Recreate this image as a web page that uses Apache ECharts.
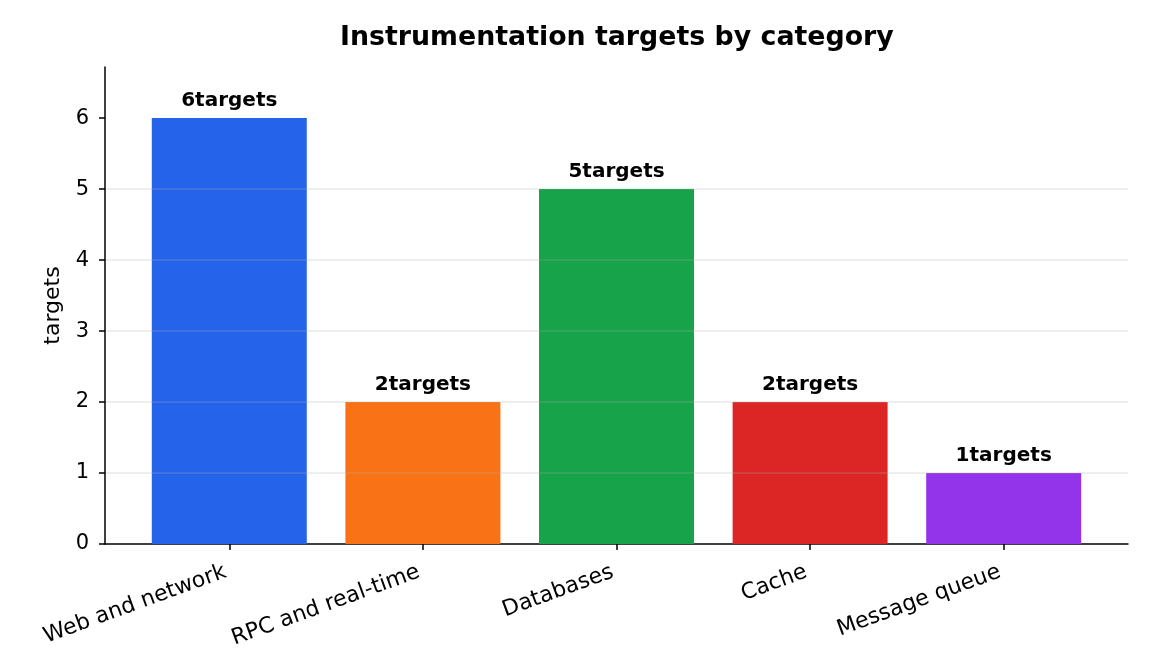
<!DOCTYPE html>
<html><head><meta charset="utf-8">
<script src="https://cdn.jsdelivr.net/npm/echarts@6/dist/echarts.min.js"></script>
<style>html,body{margin:0;padding:0;background:#fff}#c{width:1152px;height:672px}</style>
</head><body><div id="c"></div>
<script>
const categories = ["Web and network", "RPC and real-time", "Databases", "Cache", "Message queue"];
const targetCounts = [6, 2, 5, 2, 1];
const barColors = ["#2563eb", "#f97316", "#16a34a", "#dc2626", "#9333ea"];
const yTicks = [0, 1, 2, 3, 4, 5, 6];

const FONT = "DejaVu Sans";
const chart = echarts.init(document.getElementById('c'));
chart.setOption({
  animation: false,
  backgroundColor: '#ffffff',
  title: {
    text: 'Instrumentation targets by category',
    left: 335, top: 20,
    textStyle: { fontFamily: FONT, fontSize: 26.8, fontWeight: 'bold', color: '#000' }
  },
  grid: { left: 105, right: 24, top: 67, bottom: 128 },
  xAxis: {
    type: 'value', min: -0.642, max: 4.642,
    axisLine: { show: true, onZero: false, lineStyle: { color: '#000', width: 1.5 } },
    axisTick: { show: true, customValues: categories.map((_, i) => i), length: 6, lineStyle: { color: '#000', width: 1.5 } },
    axisLabel: {
      customValues: categories.map((_, i) => i),
      formatter: v => categories[Math.round(v)],
      rotate: 20, margin: 26, padding: [0, 4, 0, 0],
      fontFamily: FONT, fontSize: 22, color: '#000'
    },
    splitLine: { show: false }
  },
  yAxis: {
    type: 'value', min: 0, max: 6.72, interval: 1, z: 5,
    name: 'targets', nameLocation: 'middle', nameGap: 39, nameRotate: 90,
    nameTextStyle: { fontFamily: FONT, fontSize: 22, color: '#000' },
    axisLine: { show: true, onZero: false, lineStyle: { color: '#000', width: 1.5 } },
    axisTick: { show: true, customValues: yTicks, length: 6, lineStyle: { color: '#000', width: 1.5 } },
    axisLabel: { customValues: yTicks, fontFamily: FONT, fontSize: 21, color: '#000', margin: 16 },
    splitLine: { show: true, showMinLine: false, showMaxLine: false, lineStyle: { color: 'rgba(176,176,176,0.28)', width: 1.5 } }
  },
  series: [{
    type: 'bar',
    barWidth: 155,
    data: targetCounts.map((v, i) => ({ value: [i, v], itemStyle: { color: barColors[i] } })),
    label: {
      show: true, position: 'top', distance: 7,
      formatter: p => p.value[1] + 'targets',
      fontFamily: FONT, fontSize: 20, fontWeight: 'bold', color: '#000'
    }
  }]
});
</script></body></html>
